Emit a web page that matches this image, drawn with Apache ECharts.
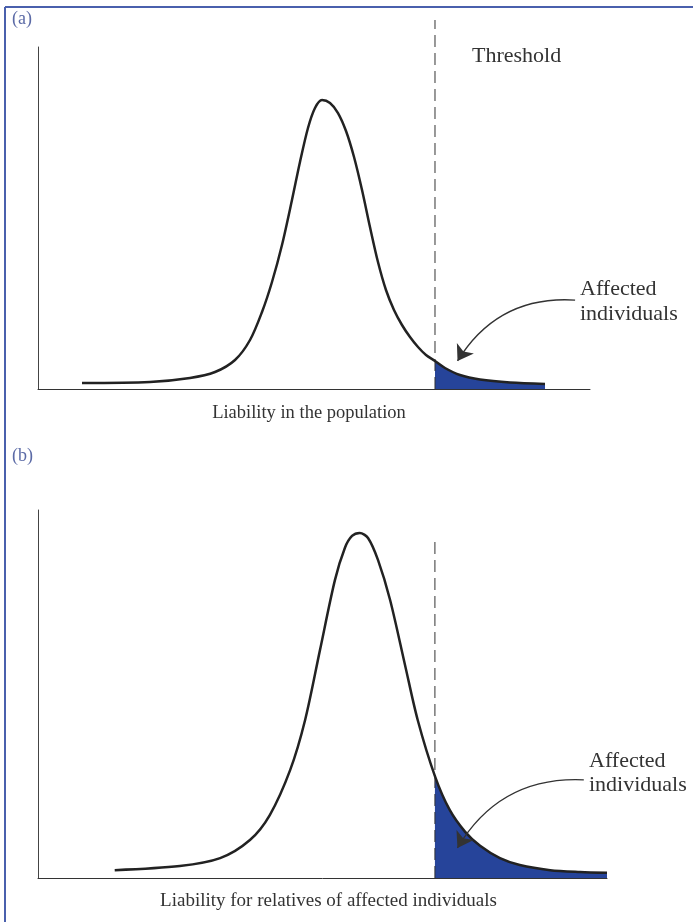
<!DOCTYPE html>
<html>
<head>
<meta charset="utf-8">
<script src="https://cdn.jsdelivr.net/npm/echarts@6/dist/echarts.min.js"></script>
<style>
html,body{margin:0;padding:0;background:#fff;}
#c{width:693px;height:922px;}
</style>
</head>
<body>
<div id="c"></div>
<script>
// Liability (x) and frequency (y) in arbitrary units
const popX = [7.97, 20.29, 27.54, 32.07, 35.69, 38.41, 40.58, 42.39, 44.20, 46.01, 47.46, 48.91, 50.18, 51.45, 52.90, 54.35, 55.80, 57.25, 58.70, 60.14, 61.59, 63.04, 64.49, 65.94, 67.39, 68.84, 70.29, 71.92, 73.73, 76.45, 80.07, 85.51, 91.85];
const popY = [1.75, 2.05, 3.22, 4.97, 8.48, 14.33, 22.51, 31.29, 42.11, 55.26, 66.37, 76.32, 82.16, 84.50, 83.63, 80.70, 75.44, 67.84, 58.19, 47.37, 37.13, 28.95, 23.10, 18.71, 15.20, 12.28, 9.94, 8.19, 6.14, 4.09, 2.78, 1.90, 1.46];
const relX = [13.9, 25.7, 33.0, 38.4, 42.0, 45.7, 48.4, 51.1, 53.8, 55.6, 56.9, 58.3, 59.8, 61.6, 63.8, 66.5, 68.8, 71.92, 74.6, 77.4, 80.1, 83.7, 87.3, 92.8, 98.2, 103.1];
const relY = [2.3, 3.5, 5.8, 11.1, 18.4, 31.6, 46.2, 66.7, 87.1, 96.5, 100.0, 100.9, 99.4, 93.0, 81.3, 62.3, 46.2, 29.8, 19.9, 13.5, 9.4, 5.8, 3.8, 2.3, 1.75, 1.5];
const thresholdX = 71.92;
// arrows: [fromX, fromY, toX, toY]
const arrowA = [97.3, 26.0, 76.0, 8.2];
const arrowB = [98.9, 28.7, 76.0, 8.8];
const labels = {
  a: '(a)', b: '(b)', threshold: 'Threshold', affected: 'Affected\nindividuals',
  xA: 'Liability in the population', xB: 'Liability for relatives of affected individuals'
};

const toPts = (xs, ys) => xs.map((x, i) => [x, ys[i]]);
const tail = (xs, ys) => toPts(xs, ys).filter(p => p[0] >= thresholdX);

const serif = 'Liberation Serif, DejaVu Serif, serif';
const ink = '#222';
const blue = '#26449a';
const labelBlue = '#5b6aa6';

const chart = echarts.init(document.getElementById('c'), null, {renderer: 'canvas'});

function mainX(gi, max, name, gap, size, pad) {
  return {gridIndex: gi, type: 'value', min: 0, max: max,
    axisLine: {show: true, lineStyle: {color: '#333', width: 1}},
    axisTick: {show: false}, axisLabel: {show: false}, splitLine: {show: false},
    name: name, nameLocation: 'middle', nameGap: gap,
    nameTextStyle: {fontFamily: serif, fontSize: size, color: '#333', padding: pad}};
}
function mainY(gi, max) {
  return {gridIndex: gi, type: 'value', min: 0, max: max,
    axisLine: {show: true, lineStyle: {color: '#444', width: 1}},
    axisTick: {show: false}, axisLabel: {show: false}, splitLine: {show: false}};
}
function hidX(gi, max) {
  return {gridIndex: gi, type: 'value', min: 0, max: max, show: false};
}
function hidY(gi) {
  return {gridIndex: gi, type: 'value', min: 0, max: 1, show: false};
}

function curveSeries(xi, pts) {
  return {type: 'line', xAxisIndex: xi, yAxisIndex: xi, data: pts, smooth: 0.3,
    symbol: 'none', z: 5,
    lineStyle: {color: ink, width: 2.5}};
}
function shadeSeries(xi, pts) {
  return {type: 'line', xAxisIndex: xi, yAxisIndex: xi, data: pts, smooth: 0.3,
    symbol: 'none', z: 3,
    lineStyle: {width: 0}, areaStyle: {color: blue, opacity: 1}};
}
function threshSeries(xi) {
  return {type: 'line', xAxisIndex: xi, yAxisIndex: xi,
    data: [[thresholdX, 0], [thresholdX, 1]], symbol: 'none', z: 4,
    lineStyle: {color: '#333', width: 1, type: [12, 6]}};
}
function arrowSeries(xi, a) {
  return {type: 'lines', coordinateSystem: 'cartesian2d', xAxisIndex: xi, yAxisIndex: xi,
    symbol: ['none', 'arrow'], symbolSize: [0, 15], z: 6,
    lineStyle: {color: '#333', width: 1.3, curveness: -0.3, opacity: 1},
    data: [{coords: [[a[0], a[1]], [a[2], a[3]]]}]};
}

const xMaxA = 100, xMaxB = 103.1;

chart.setOption({
  animation: false,
  grid: [
    {left: 38, top: 47, width: 552, height: 342},
    {left: 38, top: 20, width: 552, height: 369},
    {left: 38, top: 510, width: 569, height: 368},
    {left: 38, top: 540, width: 569, height: 338}
  ],
  xAxis: [mainX(0, xMaxA, labels.xA, 15, 18.5, [0, 10, 0, 0]), hidX(1, xMaxA),
          mainX(2, xMaxB, labels.xB, 14, 19, [0, 0, 0, 12]), hidX(3, xMaxB)],
  yAxis: [mainY(0, 100), hidY(1), mainY(2, 107.6), hidY(3)],
  series: [
    shadeSeries(0, tail(popX, popY)),
    curveSeries(0, toPts(popX, popY)),
    threshSeries(1),
    arrowSeries(0, arrowA),
    shadeSeries(2, tail(relX, relY)),
    curveSeries(2, toPts(relX, relY)),
    threshSeries(3),
    arrowSeries(2, arrowB)
  ],
  graphic: [
    {type: 'line', shape: {x1: 5, y1: 7, x2: 693, y2: 7}, style: {stroke: '#4a60ad', lineWidth: 2}},
    {type: 'line', shape: {x1: 5, y1: 7, x2: 5, y2: 922}, style: {stroke: '#4a60ad', lineWidth: 2}},
    {type: 'text', left: 12, top: 10, style: {text: labels.a, font: '18px ' + serif, fill: labelBlue}},
    {type: 'text', left: 12, top: 447, style: {text: labels.b, font: '18px ' + serif, fill: labelBlue}},
    {type: 'text', left: 472, top: 45, style: {text: labels.threshold, font: '22px ' + serif, fill: '#333'}},
    {type: 'text', left: 580, top: 277, style: {text: labels.affected, font: '22px ' + serif, fill: '#333', lineHeight: 25}},
    {type: 'text', left: 589, top: 749, style: {text: labels.affected, font: '22px ' + serif, fill: '#333', lineHeight: 24}}
  ]
});
</script>
</body>
</html>
